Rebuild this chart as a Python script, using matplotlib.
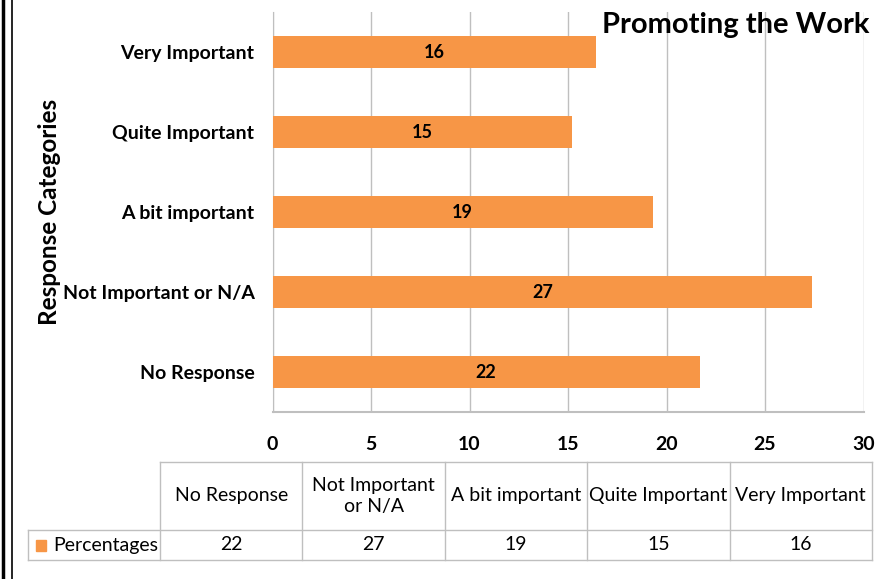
import matplotlib.pyplot as plt
from matplotlib.lines import Line2D
from matplotlib.patches import Rectangle

plt.rcParams['font.family'] = ['Lato', 'DejaVu Sans']

# data (top of chart is last)
categories = ['No Response', 'Not Important or N/A', 'A bit important',
              'Quite Important', 'Very Important']
table_heads = ['No Response', 'Not Important\nor N/A', 'A bit important',
               'Quite Important', 'Very Important']
percentages = [21.7, 27.4, 19.3, 15.2, 16.4]
series_name = 'Percentages'
title = 'Promoting the Work'
orange = '#F79646'
grid_grey = '#BFBFBF'

W, H = 883, 579
fig = plt.figure(figsize=(W / 100, H / 100), dpi=100)

# main bar plot, placed in pixel terms
ax = fig.add_axes([272.5 / W, 1 - 412 / H, (863.5 - 272.5) / W, (412 - 12) / H])
ypos = range(len(categories))
ax.barh(ypos, percentages, height=0.39, color=orange, zorder=3)
for y, v in zip(ypos, percentages):
    ax.text(v / 2, y, f'{v:.0f}', ha='center', va='center',
            fontsize=13, fontweight='bold', zorder=4)

ax.set_xlim(0, 30)
ax.set_ylim(-0.5, len(categories) - 0.5)
ax.set_xticks(range(0, 31, 5))
ax.set_yticks(list(ypos))
ax.set_yticklabels(categories, fontsize=14, fontweight='bold')
for lab in ax.get_xticklabels():
    lab.set_fontweight('bold')
    lab.set_fontsize(14)
ax.tick_params(axis='both', length=0)
ax.tick_params(axis='x', pad=17)
ax.tick_params(axis='y', pad=13)
ax.grid(axis='x', color=grid_grey, lw=1, zorder=0)
for s in ['top', 'right']:
    ax.spines[s].set_visible(False)
ax.spines['left'].set_color(grid_grey)
ax.spines['bottom'].set_color(grid_grey)
ax.spines['bottom'].set_linewidth(1.5)
ax.set_ylabel('Response Categories', fontsize=17.5, fontweight='bold', labelpad=1)

fig.text(870 / W, 1 - 33 / H, title, ha='right', va='baseline',
         fontsize=21, fontweight='bold')

# data table below, drawn in pixel coordinates
tax = fig.add_axes([28 / W, 1 - 561 / H, (873 - 28) / W, (561 - 461) / H])
tax.set_xlim(28, 873)
tax.set_ylim(561, 461)
tax.axis('off')
lab_right = 160
col_w = (872 - lab_right) / len(table_heads)
top, mid, bot = 462, 530, 560
edges = [lab_right + i * col_w for i in range(len(table_heads) + 1)]
tkw = dict(color=grid_grey, lw=1, clip_on=False)
tax.plot([lab_right, 872], [top, top], **tkw)
tax.plot([28, 872], [mid, mid], **tkw)
tax.plot([28, 872], [bot, bot], **tkw)
tax.plot([28, 28], [mid, bot], **tkw)
for x in edges:
    tax.plot([x, x], [top, bot], **tkw)
for i, (h, v) in enumerate(zip(table_heads, percentages)):
    cx = edges[i] + col_w / 2
    tax.text(cx, (top + mid) / 2, h, ha='center', va='center', fontsize=14,
             linespacing=1.3)
    tax.text(cx, (mid + bot) / 2, f'{v:.0f}', ha='center', va='center',
             fontsize=14)
tax.add_patch(Rectangle((36, 540), 10, 11, color=orange, clip_on=False))
tax.text(53, (mid + bot) / 2, series_name, ha='left', va='center', fontsize=14)

# double border on the left
fig.add_artist(Line2D([3.5 / W, 3.5 / W], [0, 1], color='black', lw=2.5))
fig.add_artist(Line2D([11.5 / W, 11.5 / W], [0, 1], color='black', lw=1.2))

fig.savefig('out.png', dpi=100)
